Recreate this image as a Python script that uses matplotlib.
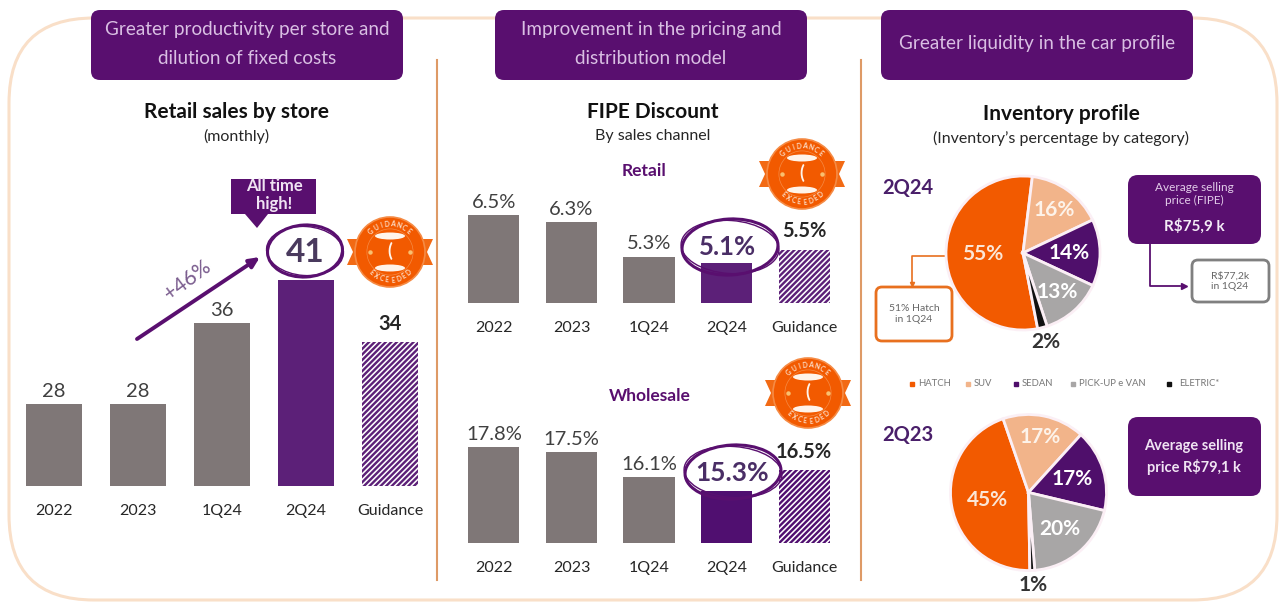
import numpy as np
import matplotlib
matplotlib.use("Agg")
import matplotlib.pyplot as plt
from matplotlib.patches import Circle, Ellipse, FancyBboxPatch, Polygon

W, H = 1279, 602

PERIODS = ["2022", "2023", "1Q24", "2Q24", "Guidance"]
store_sales = [28.0, 28.0, 36.49, 41.0, 34.49]
retail_discount = [6.5, 6.3, 5.3, 5.1, 5.5]
wholesale_discount = [17.8, 17.5, 16.1, 15.3, 16.5]

CATEGORIES = ["HATCH", "SUV", "SEDAN", "PICK-UP e VAN", "ELETRIC*"]
mix_2q24 = [55, 16, 14, 13, 2]
mix_2q23 = [45, 17, 17, 20, 1]

PURPLE = "#590F6F"
BAR_PURPLE = "#5C2078"
GREY = "#7F7777"
ORANGE = "#F25A00"
TEXT = "#262626"
CAT_COLORS = [ORANGE, "#F2B48A", "#4F0F6B", "#A8A6A6", "#111111"]

plt.rcParams["font.family"] = ["Lato", "DejaVu Sans"]
plt.rcParams["hatch.linewidth"] = 1.7

fig = plt.figure(figsize=(W / 100, H / 100), dpi=100)
bg = fig.add_axes([0, 0, 1, 1], zorder=0)
bg.set_xlim(0, W)
bg.set_ylim(H, 0)
bg.axis("off")
over = fig.add_axes([0, 0, 1, 1], zorder=5)
over.set_xlim(0, W)
over.set_ylim(H, 0)
over.axis("off")


def rbox(ax, x0, y0, x1, y1, r, fc, ec="none", lw=0, z=2):
    ax.add_patch(FancyBboxPatch((x0 + r, y0 + r), x1 - x0 - 2 * r, y1 - y0 - 2 * r,
                                boxstyle=f"round,pad={r},rounding_size={r}",
                                fc=fc, ec=ec, lw=lw, zorder=z))


def bar_panel(left, right, base, top, px_per_unit, ymin, values, fmt, highlight, width=0.667, main=BAR_PURPLE):
    ax = fig.add_axes([left / W, 1 - base / H, (right - left) / W, (base - top) / H], zorder=1)
    ax.patch.set_alpha(0)
    ax.set_xlim(-0.5, 4.5)
    ax.set_ylim(ymin, ymin + (base - top) / px_per_unit)
    ax.bar(range(4), values[:4], width=width, color=[GREY, GREY, GREY, main])
    ax.bar([4], values[4], width=width, facecolor="white", edgecolor=main, hatch="//////", lw=0)
    for s in ax.spines.values():
        s.set_visible(False)
    ax.set_yticks([])
    ax.set_xticks(range(5))
    ax.set_xticklabels(PERIODS, fontsize=11.5, color=TEXT)
    ax.tick_params(axis="x", length=0, pad=13)
    for i, v in enumerate(values):
        if i == highlight:
            continue
        bold = i == 4
        ax.annotate(fmt % v, (i, v), xytext=(0, 6 if bold else 3), textcoords="offset points", ha="center",
                    va="bottom", fontsize=14.5, color=TEXT if bold else "#404040",
                    fontweight="bold" if bold else "normal")
    return ax


def badge(cx, cy, r=35):
    for sign in (-1, 1):
        pts = [(cx + sign * r * 0.7, cy - 13), (cx + sign * (r + 8), cy - 13), (cx + sign * (r + 2), cy),
               (cx + sign * (r + 8), cy + 13), (cx + sign * r * 0.7, cy + 13)]
        over.add_patch(Polygon(pts, fc="#F26A14", ec="none", zorder=6))
    over.add_patch(Circle((cx, cy), r, fc=ORANGE, ec="#F58B45", lw=1.2, zorder=7))
    over.add_patch(Circle((cx, cy), r * 0.66, fc=ORANGE, ec="#F58B45", lw=0.5, zorder=7))
    over.add_patch(Ellipse((cx, cy - 16), 30, 7, fc="#FFF4EA", ec="none", zorder=8))
    over.add_patch(Ellipse((cx, cy + 16), 30, 7, fc="#FFF4EA", ec="none", zorder=8))
    over.text(cx, cy - 1, "(", color="#FFF4EA", fontsize=13, ha="center", va="center", fontweight="bold", zorder=9)
    over.plot([cx - 20, cx + 20], [cy, cy], ls="none", marker="o", ms=2.2, color="#F9C070", zorder=9)
    for word, sign in (("GUIDANCE", -1), ("EXCEEDED", 1)):
        for k, ch in enumerate(word):
            deg = -42 + 12 * k
            a = np.radians(deg)
            over.text(cx + 28 * np.sin(a), cy + sign * 28 * np.cos(a), ch, color="#FCE3D0", fontsize=4.8,
                      fontweight="bold", rotation=-deg if sign < 0 else deg, ha="center", va="center",
                      rotation_mode="anchor", zorder=9)


def scrawl(cx, cy, w, h):
    over.add_patch(Ellipse((cx, cy), w, h, angle=-3, fill=False, ec=PURPLE, lw=2.2, zorder=4))
    over.add_patch(Ellipse((cx, cy), w + 2, h - 3, angle=4, fill=False, ec=PURPLE, lw=1.0, zorder=4))


def pie_panel(cx, cy, r, values, start, label_r, label_colors):
    pad = 1.02
    ax = fig.add_axes([(cx - r * pad) / W, 1 - (cy + r * pad) / H, 2 * r * pad / W, 2 * r * pad / H], zorder=2)
    wedges, _ = ax.pie(values, colors=CAT_COLORS, startangle=start, counterclock=False, radius=1,
                       wedgeprops=dict(edgecolor="#FBEFF5", linewidth=2))
    ax.set_xlim(-pad, pad)
    ax.set_ylim(-pad, pad)
    for w, v, lr, c in zip(wedges, values, label_r, label_colors):
        a = np.radians((w.theta1 + w.theta2) / 2)
        ax.text(lr * np.cos(a), lr * np.sin(a), f"{v}%", color=c, fontsize=15, fontweight="bold",
                ha="center", va="center", clip_on=False)


# outer frame and dividers
bg.add_patch(FancyBboxPatch((94, 103), 1098, 412, boxstyle="round,pad=85,rounding_size=85",
                            fc="white", ec="#F9DFC8", lw=2.2, zorder=1))
for x in (437, 861):
    bg.plot([x, x], [60, 580], color="#DE9A66", lw=1.5, zorder=2)

# header boxes
headers = [(91, 403, "Greater productivity per store and\ndilution of fixed costs"),
           (495, 807, "Improvement in the pricing and\ndistribution model"),
           (881, 1193, "Greater liquidity in the car profile")]
for x0, x1, label in headers:
    rbox(bg, x0, 10, x1, 80, 9, PURPLE, z=3)
    bg.text((x0 + x1) / 2, 44, label, color="#D9BFE3", fontsize=13.6, ha="center", va="center",
            linespacing=1.85, zorder=4)

# panel titles
titles = [(236, 112, "Retail sales by store"), (653, 112, "FIPE Discount"), (1061, 114, "Inventory profile")]
for x, y, label in titles:
    bg.text(x, y, label, fontsize=15, fontweight="bold", color="#111111", ha="center", va="center")
subs = [(236, 136, "(monthly)"), (653, 136, "By sales channel"), (1061, 138, "(Inventory\u2019s percentage by category)")]
for x, y, label in subs:
    bg.text(x, y, label, fontsize=11.5, color=TEXT, ha="center", va="center")
bg.text(644, 171, "Retail", fontsize=12.5, fontweight="bold", color=PURPLE, ha="center", va="center")
bg.text(650, 396, "Wholesale", fontsize=12.5, fontweight="bold", color=PURPLE, ha="center", va="center")

# bars
bar_panel(12, 432, 486, 200, 9.54, 19.4, store_sales, "%.0f", 3)
bar_panel(455, 843, 303, 180, 34.7, 3.96, retail_discount, "%.1f%%", 3, width=0.66)
bar_panel(455, 843, 543, 420, 17.6, 12.35, wholesale_discount, "%.1f%%", 3, width=0.66, main="#500F70")

# highlighted values
scrawl(305, 251, 75, 52)
over.text(305, 252, "41", fontsize=24, fontweight="bold", color="#4A3A5E", ha="center", va="center", zorder=5)
scrawl(730, 247, 96, 56)
over.text(728, 247, "5.1%", fontsize=18.5, fontweight="bold", color="#4A2E66", ha="center", va="center", zorder=5)
scrawl(733, 472, 96, 54)
over.text(732, 473, "15.3%", fontsize=19, fontweight="bold", color="#4A2E66", ha="center", va="center", zorder=5)

# all time high callout
bg.add_patch(Polygon([(231, 179), (316, 179), (316, 214), (268, 214), (257, 228), (245, 214), (231, 214)],
                     fc=PURPLE, ec="none", zorder=3))
bg.text(274, 195, "All time\nhigh!", color="#F0E4F3", fontsize=12, fontweight="bold", ha="center", va="center",
        linespacing=1.2, zorder=4)

# growth arrow
over.annotate("", xy=(260, 257), xytext=(137, 339),
              arrowprops=dict(arrowstyle="-|>,head_width=0.28,head_length=0.6", color=PURPLE, lw=2.8,
                              shrinkA=0, shrinkB=0))
over.text(188, 280, "+46%", fontsize=15, color="#7A5C8E", rotation=37, ha="center", va="center")

badge(390, 252)
badge(802, 174)
badge(808, 393)

# pies
pie_colors = ["#FBE6D6", "#FDF3EA", "white", "white", "#333333"]
pie_panel(1023, 253, 77, mix_2q24, 281, [0.53, 0.69, 0.6, 0.67, 1.19], pie_colors)
pie_panel(1028.5, 492.5, 78, mix_2q23, 271, [0.53, 0.72, 0.59, 0.62, 1.19], pie_colors)
bg.text(908, 188, "2Q24", fontsize=14.5, fontweight="bold", color="#4A1F6A", ha="center", va="center")
bg.text(908, 435, "2Q23", fontsize=14.5, fontweight="bold", color="#4A1F6A", ha="center", va="center")

# legend
marker_x = [912, 968, 1016, 1073, 1169]
for mx, name, c in zip(marker_x, CATEGORIES, CAT_COLORS):
    bg.plot([mx], [384], marker="s", ms=2.8, color=c, ls="none")
    bg.text(mx + (10 if name == "ELETRIC*" else 6), 384, name, fontsize=6.8, color="#777777", va="center")

# side notes
rbox(bg, 1128, 175, 1261, 244, 10, PURPLE, z=3)
bg.text(1194, 194, "Average selling\nprice (FIPE)", fontsize=8.5, color="#E3CDEA", ha="center", va="center",
        linespacing=1.2, zorder=4)
bg.text(1194, 226, "R$75,9 k", fontsize=11, fontweight="bold", color="#F4ECF6", ha="center", va="center", zorder=4)
bg.plot([1150, 1150, 1180], [244, 286, 286], color=PURPLE, lw=1.3, zorder=2)
bg.plot([1184], [286], marker=">", ms=4, color=PURPLE, zorder=2)
rbox(bg, 1192, 260, 1269, 302, 6, "white", ec="#808080", lw=2, z=3)
bg.text(1230, 281, "R$77,2k\nin 1Q24", fontsize=7.5, color="#666666", ha="center", va="center", zorder=4)

bg.plot([945, 912, 912], [256, 256, 283], color="#E8701F", lw=1.2, zorder=1.5)
bg.plot([912], [284], marker="v", ms=3, color="#E8701F", zorder=1.5)
rbox(bg, 876, 287, 952, 341, 6, "white", ec="#E8701F", lw=2, z=3)
bg.text(914, 314, "51% Hatch\nin 1Q24", fontsize=7.5, color="#666666", ha="center", va="center", zorder=4)

rbox(bg, 1128, 417, 1261, 496, 10, PURPLE, z=3)
bg.text(1194, 457, "Average selling\nprice R$79,1 k", fontsize=10.5, fontweight="bold", color="#F0E4F3",
        ha="center", va="center", linespacing=1.4, zorder=4)

fig.savefig("out.png", dpi=100)
